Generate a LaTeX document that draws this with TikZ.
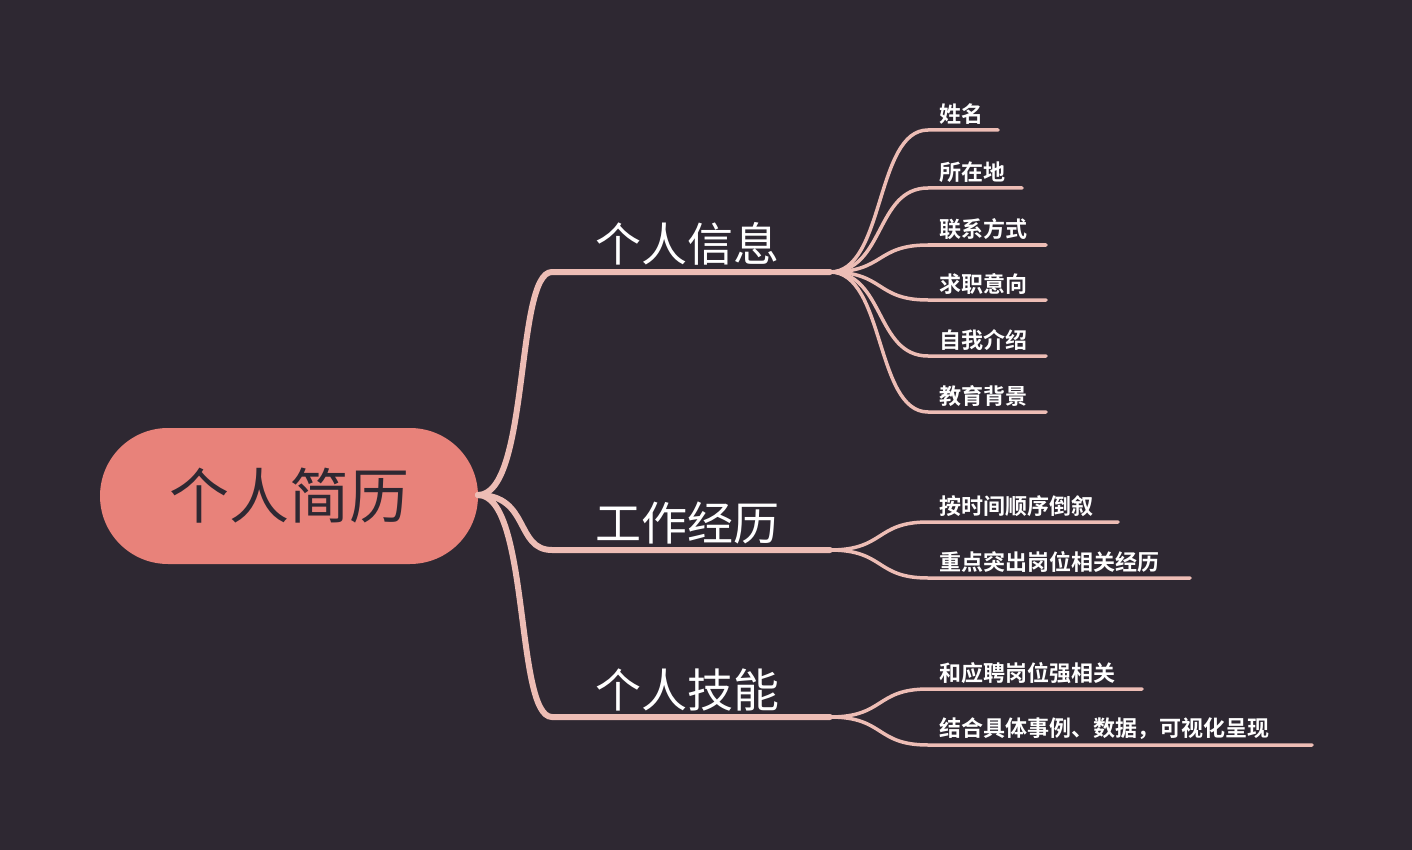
\documentclass[tikz,border=0pt]{standalone}
\usepackage{fontspec}
\newfontfamily\cjk{Noto Sans CJK SC}
\newfontfamily\cjkb{Noto Sans CJK SC Bold}
\definecolor{bg}{HTML}{2E2832}
\definecolor{rootc}{HTML}{E8827A}
\definecolor{linec}{HTML}{EDBDB5}
\tikzset{
 leaf/.style={anchor=south west,inner sep=0pt,text=white,font=\cjkb\fontsize{22}{24}\selectfont},
 br/.style={anchor=south west,inner sep=0pt,text=white,font=\cjk\fontsize{46}{50}\selectfont},
 conn/.style={draw=linec,line width=3.5pt,line cap=round},
 main/.style={draw=linec,line width=6pt,line cap=round},
}
\begin{document}
\begin{tikzpicture}[x=1pt,y=-1pt]
\fill[bg] (0,0) rectangle (1412,850);
\useasboundingbox (0,0) rectangle (1412,850);
\node[fill=rootc,rounded corners=68pt,minimum width=378pt,minimum height=136pt,inner sep=0pt,text=bg,font=\cjk\fontsize{60}{64}\selectfont] (root) at (289,496) {个人简历};
\coordinate (r) at (478,495);
% branches
\foreach \n/\y/\t in {a/272/个人信息, b/550/工作经历, c/717/个人技能}{
 \coordinate (\n s) at (552,\y);
 \coordinate (\n e) at (830,\y);
 \draw[main] (r) .. controls (530,495) and (515,\y) .. (\n s) -- (\n e);
 \node[br] (\n l) at (595,\y-6) {\t};
}
% leaves
\foreach \p/\by/\y/\e/\t in {a/272/130/998/姓名, a/272/188/1022/所在地, a/272/245/1046/联系方式, a/272/300/1046/求职意向, a/272/356/1046/自我介绍, a/272/412/1046/教育背景,
 b/550/522/1118/按时间顺序倒叙, b/550/578/1190/重点突出岗位相关经历,
 c/717/689/1142/和应聘岗位强相关, c/717/745/1312/结合具体事例、数据，可视化呈现}{
 \coordinate (ls) at (928,\y);
 \coordinate (le) at (\e,\y);
 \draw[conn] (\p e) .. controls (885,\by) and (875,\y) .. (ls) -- (le);
 \node[leaf] at (939,\y-5) {\t};
}
\end{tikzpicture}
\end{document}
